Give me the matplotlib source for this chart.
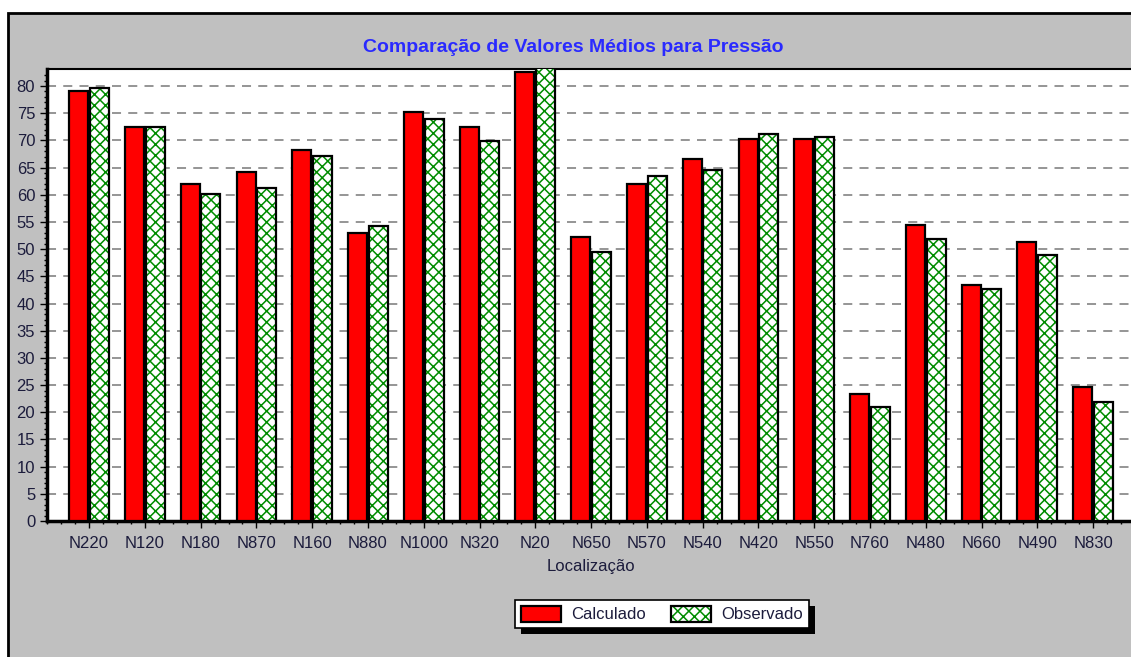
import numpy as np
import matplotlib.pyplot as plt
from matplotlib.patches import Rectangle

# dados
locais = ['N220', 'N120', 'N180', 'N870', 'N160', 'N880', 'N1000', 'N320', 'N20', 'N650',
          'N570', 'N540', 'N420', 'N550', 'N760', 'N480', 'N660', 'N490', 'N830']
calculado = [79.1, 72.4, 62.0, 64.2, 68.3, 53.0, 75.2, 72.5, 82.5, 52.2,
             62.0, 66.5, 70.3, 70.3, 23.4, 54.4, 43.4, 51.3, 24.7]
observado = [79.6, 72.4, 60.1, 61.3, 67.1, 54.2, 74.0, 69.9, 83.5, 49.4,
             63.5, 64.5, 71.1, 70.6, 20.9, 51.9, 42.6, 48.9, 21.9]

plt.rcParams['font.family'] = ['Liberation Sans', 'DejaVu Sans']
plt.rcParams['hatch.linewidth'] = 1.1

W, H = 1131, 657
fig = plt.figure(figsize=(W / 100, H / 100), dpi=100)
fig.patch.set_facecolor('white')

# painel cinza com borda preta
fig.patches.append(Rectangle((8 / W, -0.1), 1.1, (H - 13) / H + 0.1, transform=fig.transFigure,
                             facecolor='#c0c0c0', edgecolor='black', linewidth=2, zorder=-10))

ax = fig.add_axes([47 / W, (H - 521) / H, (W - 47) / W, (521 - 69) / H])
ax.set_facecolor('white')

verde = (0.0, 0.55, 0.0, 1.0)
x = np.arange(len(locais))
w = 0.34
b1 = ax.bar(x - 0.185, calculado, w, color='#ff0000', edgecolor='black', linewidth=1.6, zorder=3,
            label='Calculado')
b2 = ax.bar(x + 0.185, observado, w, color='white', edgecolor='black', linewidth=1.6, hatch='xxx',
            zorder=3, label='Observado')
for p in b2:
    p._hatch_color = verde

ax.set_xlim(-0.754, 18.68)
ax.set_ylim(0, 83.13)

ax.set_yticks(np.arange(0, 81, 5))
ax.set_yticks(np.arange(0, 83, 1), minor=True)
ax.set_xticks(x)
ax.set_xticks(np.arange(-0.75, 18.7, 0.25), minor=True)
ax.set_xticklabels(locais)

ax.yaxis.grid(True, linestyle=(0, (5, 4)), color='#8c8c8c', linewidth=1.3, zorder=0)
ax.set_axisbelow(True)

ax.tick_params(axis='both', which='major', labelsize=12, labelcolor='#1c1c3c', length=5, width=1)
ax.tick_params(axis='both', which='minor', length=2.5, width=1)
ax.tick_params(axis='x', pad=6)

for s in ['left', 'bottom']:
    ax.spines[s].set_linewidth(2.5)
ax.spines['top'].set_linewidth(1.5)
ax.spines['right'].set_visible(False)

fig.text(573 / W, 1 - 47 / H, 'Comparação de Valores Médios para Pressão', ha='center', va='center',
         fontsize=14, fontweight='bold', color='#2a2aff')
fig.text(591 / W, 1 - 567 / H, 'Localização', ha='center', va='center', fontsize=12,
         color='#1c1c3c')

leg = fig.legend(handles=[b1, b2], loc='center', bbox_to_anchor=(662 / W, 1 - 614 / H), ncol=2,
                 fancybox=False, shadow=False, framealpha=1,
                 edgecolor='black', fontsize=12, handlelength=2.4, handleheight=1.1,
                 handletextpad=0.6, columnspacing=1.5, borderpad=0.35)
leg.get_frame().set_linewidth(1.2)
leg.set_zorder(5)
for t in leg.get_texts():
    t.set_color('#1c1c3c')

# sombra da legenda
fig.canvas.draw()
bb = leg.get_window_extent()
fig.patches.append(Rectangle((bb.x0 + 6, bb.y0 - 6), bb.width, bb.height, transform=None,
                             facecolor='black', edgecolor='none', zorder=4))

fig.savefig('out.png', dpi=100, facecolor=fig.get_facecolor())
